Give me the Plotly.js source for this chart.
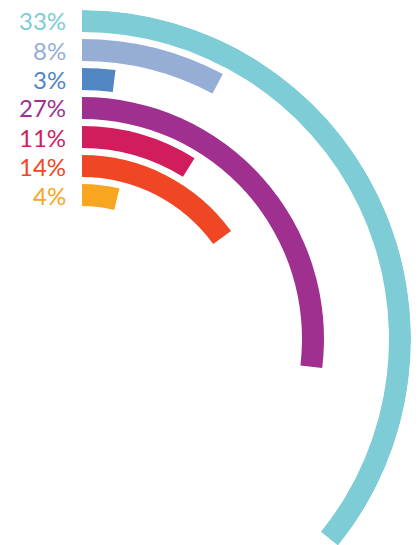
<!DOCTYPE html>
<html><head><meta charset="utf-8">
<script src="https://cdn.plot.ly/plotly-3.0.1.min.js"></script>
<style>html,body{margin:0;padding:0;overflow:hidden;width:419px;height:545px;background:#fff;}
#chart{position:absolute;left:-247px;top:-40px;width:658px;height:708px;}</style>
</head><body><div id="chart"></div>
<script>
// data
const labels = ["33%", "8%", "3%", "27%", "11%", "14%", "4%"];
const arcDegrees = [128.9, 28.0, 7.1, 96.9, 31.9, 54.1, 14.0]; // drawn sweep of each arc
const colors = ["#7ECCD5", "#96AED6", "#5286C3", "#A0308F", "#D11D5E", "#EF4724", "#F8A61F"];

const OUTER = 329, PITCH = 29, THICK = 22, SIZE = 658, PAD = 50, H = SIZE + PAD;
const bases = labels.map((_, i) => OUTER - PITCH * i - THICK);

const trace = {
  type: 'barpolar',
  r: labels.map(() => THICK),
  base: bases,
  theta: arcDegrees.map(d => d / 2),
  width: arcDegrees,
  marker: {color: colors, line: {width: 0}},
  hoverinfo: 'skip'
};

const annotations = labels.map((t, i) => {
  const yc = PAD + SIZE / 2 - (bases[i] + THICK / 2); // px from top of div
  return {
    xref: 'paper', yref: 'paper',
    x: (SIZE / 2 - 14) / SIZE, y: 1 - yc / H,
    xanchor: 'right', yanchor: 'middle',
    text: t, showarrow: false,
    font: {family: 'Lato, "Open Sans", sans-serif', size: 24, color: colors[i], weight: 400}
  };
});

const layout = {
  width: SIZE, height: H,
  margin: {l: 0, r: 0, t: 0, b: 0},
  paper_bgcolor: 'rgba(0,0,0,0)',
  showlegend: false,
  polar: {
    domain: {x: [0, 1], y: [0, SIZE / H]},
    bgcolor: 'rgba(0,0,0,0)',
    radialaxis: {range: [0, OUTER], visible: false},
    angularaxis: {rotation: 90, direction: 'clockwise', visible: false}
  },
  annotations: annotations
};

Plotly.newPlot('chart', [trace], layout, {displayModeBar: false, staticPlot: true});
</script></body></html>
